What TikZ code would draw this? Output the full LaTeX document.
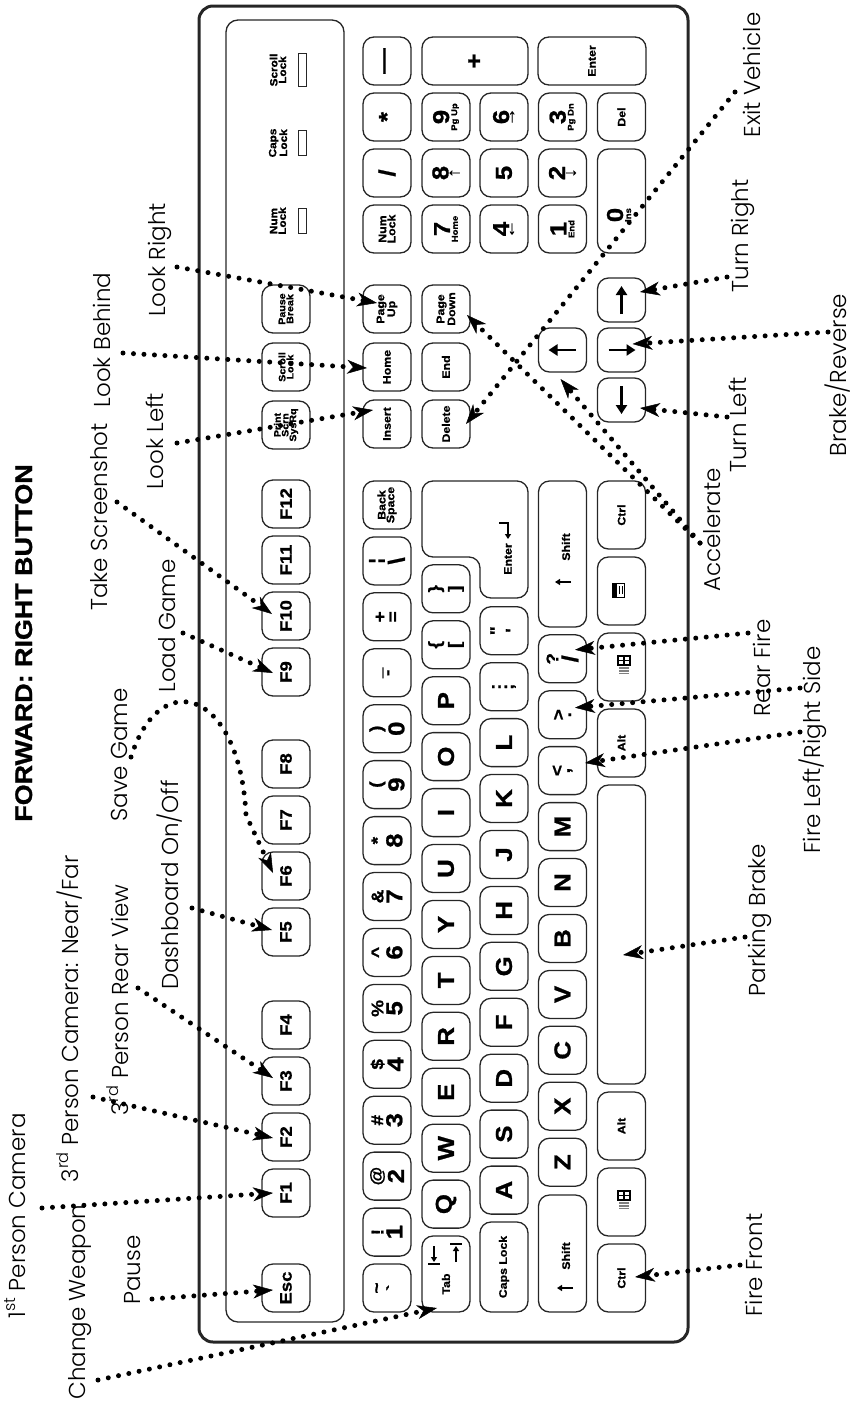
\documentclass[tikz,border=0pt]{standalone}
\usepackage{fontspec}
\setmainfont{Liberation Sans}
\newfontfamily\kf{Liberation Sans}[FakeStretch=1.12,FakeBold=1]
\newfontfamily\lf{Poppins Light}
\usetikzlibrary{arrows.meta}
\newcommand\fA{\fontsize{23}{4}\selectfont}
\newcommand\fB{\fontsize{16.5}{4}\selectfont}
\newcommand\fS{\fontsize{17}{4}\selectfont}
\newcommand\fT{\fontsize{8.5}{4}\selectfont}
\newcommand\fR{\fontsize{17}{4}\selectfont}
\newcommand\TL[2]{{\fS #1}\\[2pt]{\fA #2}}
\newcommand\TS[2]{{\fS #1}\\[3pt]{\fS #2}}
\newcommand\NP[2]{{\fA #1}\\[1pt]{\fT #2}}
\newcommand\Key[6][]{\node[key,minimum width=#5pt,#1] (#2) at (#3,#4) {#6};}
\begin{document}
\begin{tikzpicture}[x=1pt,y=-1pt,
  key/.style={draw=black!85, line width=1.3pt, rounded corners=11pt, minimum height=48pt, inner sep=0pt, rotate=90, font=\kf\bfseries\fontsize{10}{4}\selectfont, align=center},
  small/.style={font=\kf\bfseries\fontsize{11}{4}\selectfont},
  tiny/.style={font=\kf\bfseries\fontsize{9.5}{4}\selectfont},
  ktext/.style={rotate=90, inner sep=0pt, font=\kf\bfseries\fontsize{11}{4}\selectfont, align=center},
  lab/.style={rotate=90, anchor=base, inner sep=0pt, font=\lf\fontsize{23}{23}\selectfont},
  conn/.style={line width=5pt, dash pattern=on 0pt off 10.5pt, line cap=round, -{Stealth[length=20pt,width=14pt,inset=6pt,line width=0.5pt]}},
  led/.style={draw=black!85, line width=1pt, minimum height=8pt, inner sep=0pt, rotate=90},
  akey/.style={line width=2.8pt, -{Triangle[length=9pt,width=11pt]}},
  sarrow/.style={line width=1.3pt, -{Triangle[length=5pt,width=6pt]}},
  keyline/.style={draw=black!85, line width=1.3pt, rounded corners=11pt}
]
\useasboundingbox (0,0) rectangle (857,1406);

% keyboard body
\draw[line width=3pt, rounded corners=14pt, black!85] (199,6) rectangle (688,1342);
\draw[line width=1.3pt, rounded corners=12pt, black!85] (226,20) rectangle (344,1322);

% function row
\Key{esc}{286}{1288}{48}{\fB Esc}
\Key{f1}{286}{1193}{48}{\fB F1}
\Key{f2}{286}{1137}{48}{\fB F2}
\Key{f3}{286}{1081}{48}{\fB F3}
\Key{f4}{286}{1025}{48}{\fB F4}
\Key{f5}{286}{932}{48}{\fB F5}
\Key{f6}{286}{876}{48}{\fB F6}
\Key{f7}{286}{820}{48}{\fB F7}
\Key{f8}{286}{764}{48}{\fB F8}
\Key{f9}{286}{672}{48}{\fB F9}
\Key{f10}{286}{616}{48}{\fB F10}
\Key{f11}{286}{560}{48}{\fB F11}
\Key{f12}{286}{504}{48}{\fB F12}
\Key[tiny]{prt}{286}{425}{48}{Print\\Scrn\\SysRq}
\Key[tiny]{scr}{286}{367}{48}{Scroll\\Lock}
\Key[tiny]{pau}{286}{309}{48}{Pause\\Break}

% lock lights
\node[ktext, font=\kf\bfseries\fontsize{10.5}{4}\selectfont] (numt) at (278,221) {Num\\Lock};
\node[ktext, font=\kf\bfseries\fontsize{10.5}{4}\selectfont] (capt) at (278,143) {Caps\\Lock};
\node[ktext, font=\kf\bfseries\fontsize{10.5}{4}\selectfont] (scrt) at (278,70) {Scroll\\Lock};
\node[led, minimum width=25pt] (numled) at (302,221) {};
\node[led, minimum width=25pt] (capled) at (302,143) {};
\node[led, minimum width=33pt] (scrled) at (302,70) {};

% number row
\Key{kgr}{387}{1288}{48}{\TS{\textasciitilde}{\textasciigrave}}
\Key{k1}{387}{1232.1}{48}{\TL{!}{1}}
\Key{k2}{387}{1176.1}{48}{\TL{@}{2}}
\Key{k3}{387}{1120.2}{48}{\TL{\#}{3}}
\Key{k4}{387}{1064.3}{48}{\TL{\$}{4}}
\Key{k5}{387}{1008.4}{48}{\TL{\%}{5}}
\Key{k6}{387}{952.4}{48}{\TL{\textasciicircum}{6}}
\Key{k7}{387}{896.5}{48}{\TL{\&}{7}}
\Key{k8}{387}{840.6}{48}{\TL{*}{8}}
\Key{k9}{387}{784.6}{48}{\TL{(}{9}}
\Key{k0}{387}{728.7}{48}{\TL{)}{0}}
\Key{kmi}{387}{672.8}{48}{\TS{\_}{-}}
\Key{keq}{387}{616.8}{48}{\TS{+}{=}}
\Key{kbsl}{387}{560.9}{48}{\TL{¦}{\textbackslash}}
\Key[small]{kbs}{387}{505}{48}{Back\\Space}

% qwerty row
\Key{tab}{446}{1274}{76}{}
\node[ktext] (tabt) at (446,1284) {Tab};
\draw[sarrow] (434,1246) -- (434,1262);
\draw[line width=1.3pt] (428,1264) -- (440,1264);
\draw[sarrow] (456,1262) -- (456,1246);
\draw[line width=1.3pt] (450,1244) -- (462,1244);
\Key{q}{446}{1204.1}{48}{\fA Q}
\Key{w}{446}{1148.2}{48}{\fA W}
\Key{e}{446}{1092.2}{48}{\fA E}
\Key{r}{446}{1036.3}{48}{\fA R}
\Key{t}{446}{980.4}{48}{\fA T}
\Key{y}{446}{924.4}{48}{\fA Y}
\Key{u}{446}{868.5}{48}{\fA U}
\Key{i}{446}{812.6}{48}{\fA I}
\Key{o}{446}{756.6}{48}{\fA O}
\Key{p}{446}{700.7}{48}{\fA P}
\Key{lbr}{446}{644.8}{48}{\TS{\{}{[}}
\Key{rbr}{446}{588.8}{48}{\TS{\}}{]}}
\draw[keyline] (422,481) -- (422,557) -- (480,557) -- (480,598) -- (528,598) -- (528,481) -- cycle;
\node[ktext] (entt) at (508,559) {Enter};
\draw[sarrow] (499,523) -- (508,523) -- (508,539);

% home row
\Key[small]{caps}{504}{1267}{90}{Caps Lock}
\Key{a}{504}{1190.1}{48}{\fA A}
\Key{s}{504}{1134.1}{48}{\fA S}
\Key{d}{504}{1078.2}{48}{\fA D}
\Key{f}{504}{1022.3}{48}{\fA F}
\Key{g}{504}{966.3}{48}{\fA G}
\Key{h}{504}{910.4}{48}{\fA H}
\Key{j}{504}{854.5}{48}{\fA J}
\Key{k}{504}{798.5}{48}{\fA K}
\Key{l}{504}{742.6}{48}{\fA L}
\Key{scol}{504}{686.7}{48}{\TS{:}{;}}
\Key{quo}{504}{630.7}{48}{\TS{"}{\textquotesingle}}

% bottom letter row
\Key{lsh}{562.5}{1253.5}{117}{}
\node[ktext] (lsht) at (566,1256) {Shift};
\draw[sarrow] (573,1288) -- (557,1288);
\Key{z}{562.5}{1162.2}{48}{\fA Z}
\Key{x}{562.5}{1106.2}{48}{\fA X}
\Key{c}{562.5}{1050.3}{48}{\fA C}
\Key{v}{562.5}{994.4}{48}{\fA V}
\Key{b}{562.5}{938.4}{48}{\fA B}
\Key{n}{562.5}{882.5}{48}{\fA N}
\Key{m}{562.5}{826.6}{48}{\fA M}
\Key{com}{562.5}{770.6}{48}{\TS{<}{,}}
\Key{per}{562.5}{714.7}{48}{\TS{>}{.}}
\Key{sla}{562.5}{658.8}{48}{\TL{?}{/}}
\Key{rsh}{562.5}{554}{146}{}
\node[ktext] (rsht) at (566,547) {Shift};
\draw[sarrow] (571,582) -- (555,582);

% space row
\Key[small]{lctrl}{621.5}{1278}{68}{Ctrl}
\Key{lwin}{621.5}{1202}{68}{}
\Key[small]{lalt}{621.5}{1126}{68}{Alt}
\Key{space}{621.5}{934.5}{299}{}
\Key[small]{ralt}{621.5}{743}{68}{Alt}
\Key{rwin}{621.5}{667}{68}{}
\Key{menu}{621.5}{591}{68}{}
\Key[small]{rctrl}{621.5}{515}{68}{Ctrl}
\foreach \w in {lwin,rwin}{
  \begin{scope}[shift={(\w.center)}]
    \draw[line width=1.1pt] (-3.5,-11) rectangle (8.5,-2);
    \draw[line width=1.1pt] (2.5,-11) -- (2.5,-2) (-3.5,-6.5) -- (8.5,-6.5);
    \foreach \k in {0,1.5,3,4.5,6}{\draw[black!50, line width=0.8pt] (-2.5,\k) -- (7.5,\k);}
  \end{scope}
}
\begin{scope}[shift={(menu.center)}]
  \draw[line width=1pt] (-9,-8) rectangle (3,6);
  \fill (-9,-8) rectangle (-5,6);
  \draw[line width=1pt] (-2,-5) -- (-2,3) (1,-5) -- (1,3);
\end{scope}

% navigation
\Key[small]{ins}{387}{424}{48}{Insert}
\Key[small]{home}{387}{367}{48}{Home}
\Key[small]{pgup}{387}{309}{48}{Page\\Up}
\Key[small]{del}{446}{424}{48}{Delete}
\Key[small]{end}{446}{367}{48}{End}
\Key[small]{pgdn}{446}{309}{48}{Page\\Down}

% arrows
\Key{up}{562.5}{350}{44}{}
\Key{left}{621.5}{400}{44}{}
\Key{down}{621.5}{350}{44}{}
\Key{right}{621.5}{300}{44}{}
\draw[akey] ([shift={(13,0)}]up.center) -- ([shift={(-14,0)}]up.center);
\draw[akey] ([shift={(0,14)}]right.center) -- ([shift={(0,-14)}]right.center);
\draw[akey] ([shift={(-13,0)}]down.center) -- ([shift={(14,0)}]down.center);
\draw[akey] ([shift={(0,-14)}]left.center) -- ([shift={(0,14)}]left.center);

% numeric pad
\Key[small]{nlk}{387}{229}{48}{Num\\Lock}
\Key{nsl}{387}{173}{48}{\fA /}
\Key{nst}{387}{117}{48}{\fA *}
\Key{nmi}{387}{61}{48}{\fA —}
\Key{n7}{446}{229}{48}{\NP{7}{Home}}
\Key{n8}{446}{173}{48}{{\fA 8}\\[0pt]{\fR ↑}}
\Key{n9}{446}{117}{48}{\NP{9}{Pg Up}}
\Key[minimum height=106pt]{nplus}{475}{61}{48}{\fA +}
\Key{n4}{504}{229}{48}{{\fA 4}\\[0pt]{\fR ←}}
\Key{n5}{504}{173}{48}{\fA 5}
\Key{n6}{504}{117}{48}{{\fA 6}\\[0pt]{\fR →}}
\Key{n1}{562.5}{229}{48}{\NP{1}{End}}
\Key{n2}{562.5}{173}{48}{{\fA 2}\\[0pt]{\fR ↓}}
\Key{n3}{562.5}{117}{48}{\NP{3}{Pg Dn}}
\Key[small,minimum height=108pt]{nent}{592}{61}{48}{Enter}
\Key{n0}{621.5}{201}{104}{}
\node[ktext] (n0t) at (619,215) {{\fA 0}\\[1pt]{\fT Ins}};
\Key[small]{ndel}{621.5}{117}{48}{Del}

% title
\node[rotate=90, anchor=base, inner sep=0pt, font=\kf\bfseries\fontsize{24}{24}\selectfont] (title) at (32,643) {FORWARD: RIGHT BUTTON};

% labels
\node[lab] (lFirst) at (25,1216) {1\textsuperscript{st} Person Camera};
\node[lab] (lChange) at (85,1302) {Change Weapon};
\node[lab] (lPause) at (140,1270) {Pause};
\node[lab] (lNear) at (78,1019) {3\textsuperscript{rd} Person Camera: Near/Far};
\node[lab] (lRear) at (128,1000) {3\textsuperscript{rd} Person Rear View};
\node[lab] (lDash) at (178,885) {Dashboard On/Off};
\node[lab] (lSave) at (127,755) {Save Game};
\node[lab] (lLoad) at (175,626) {Load Game};
\node[lab] (lShot) at (107,517) {Take Screenshot};
\node[lab] (lLeft) at (163,441) {Look Left};
\node[lab] (lBehind) at (110,340) {Look Behind};
\node[lab] (lRight) at (165,260) {Look Right};
\node[lab] (lExit) at (760,75) {Exit Vehicle};
\node[lab] (lTR) at (748,236) {Turn Right};
\node[lab] (lBrake) at (846,375) {Brake/Reverse};
\node[lab] (lTL) at (746,425) {Turn Left};
\node[lab] (lAcc) at (720,530) {Accelerate};
\node[lab] (lRearF) at (770,668) {Rear Fire};
\node[lab] (lFLR) at (820,750) {Fire Left/Right Side};
\node[lab] (lPark) at (765,920) {Parking Brake};
\node[lab] (lFront) at (762,1265) {Fire Front};

% connectors
\draw[conn] ([shift={(12,7)}]lRight.base) -- ([shift={(-10,-6)}]pgup.center);
\draw[conn] ([shift={(13,13)}]lBehind.base) -- ([shift={(-20,1)}]home.center);
\draw[conn] ([shift={(14,2)}]lLeft.base) -- ([shift={(-14,-14)}]ins.center);
\draw[conn] ([shift={(10,-15)}]lShot.base) -- ([shift={(-14,-2)}]f10.center);
\draw[conn] ([shift={(8,7)}]lLoad.base) -- ([shift={(-13,1)}]f9.center);
\draw[conn] ([shift={(4,2)}]lSave.base) .. controls (160,665) and (240,690) .. (246,815) -- ([shift={(-13,-3)}]f6.center);
\draw[conn] ([shift={(14,23)}]lDash.base) -- ([shift={(-14,-2)}]f5.center);
\draw[conn] ([shift={(10,-12)}]lRear.base) -- ([shift={(-13,-3)}]f3.center);
\draw[conn] ([shift={(15,78)}]lNear.base) -- ([shift={(-13,1)}]f2.center);
\draw[conn] ([shift={(17,-8)}]lFirst.base) -- ([shift={(-13,0)}]f1.center);
\draw[conn] ([shift={(12,29)}]lPause.base) -- ([shift={(-13,2)}]esc.center);
\draw[conn] ([shift={(13,78)}]lChange.base) -- ([shift={(-9,34)}]tab.center);
\draw[conn] ([shift={(-25,17)}]lExit.base) -- ([shift={(20,0)}]del.center);
\draw[conn] ([shift={(-20,13)}]lAcc.base) -- ([shift={(21,6)}]pgdn.center);
\draw[conn] ([shift={(-20,13)}]lAcc.base) -- ([shift={(-2,29)}]up.center);
\draw[conn] ([shift={(-21,41)}]lTR.base) -- ([shift={(18.5,-8)}]right.center);
\draw[conn] ([shift={(-18,-43)}]lBrake.base) -- ([shift={(11,-6)}]down.center);
\draw[conn] ([shift={(-19,-8)}]lTL.base) -- ([shift={(18.5,8)}]left.center);
\draw[conn] ([shift={(-22,-35)}]lRearF.base) -- ([shift={(12.5,-9)}]sla.center);
\draw[conn] ([shift={(-20,-62)}]lFLR.base) -- ([shift={(12.5,-7)}]per.center);
\draw[conn] ([shift={(-20,-18)}]lFLR.base) -- ([shift={(22.5,-7.6)}]com.center);
\draw[conn] ([shift={(-20,17)}]lPark.base) -- ([shift={(1.5,20.5)}]space.center);
\draw[conn] ([shift={(-22,0)}]lFront.base) -- ([shift={(13.5,-1)}]lctrl.center);
\end{tikzpicture}
\end{document}
